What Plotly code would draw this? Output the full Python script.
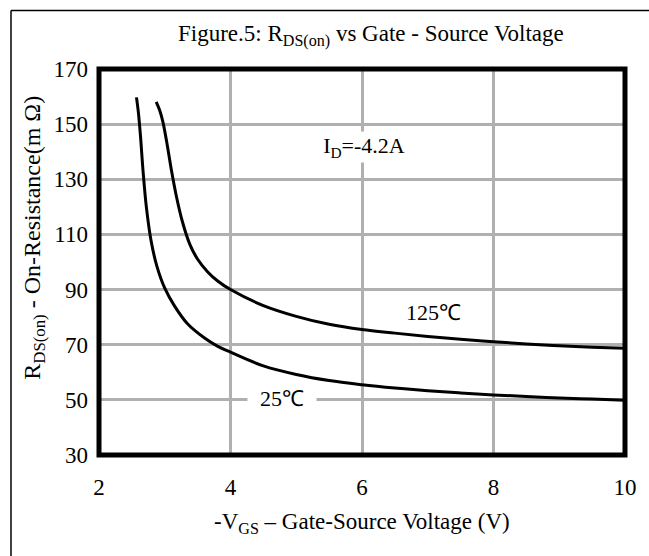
import plotly.graph_objects as go

# ---- data ----
vgs_25 = [2.57, 2.60, 2.63, 2.67, 2.72, 2.79, 2.88, 3.0, 3.15, 3.35, 3.6, 3.8, 4.0,
          4.5, 5.0, 5.5, 6.0, 6.5, 7.0, 7.5, 8.0, 8.5, 9.0, 9.5, 10.0]
rds_25 = [159.7, 154.0, 146.0, 133.0, 120.0, 108.0, 98.5, 90.5, 84.0, 77.5, 72.5, 69.5, 67.3,
          62.3, 59.2, 57.0, 55.5, 54.3, 53.3, 52.5, 51.8, 51.2, 50.7, 50.3, 49.9]

vgs_125 = [2.87, 2.92, 2.97, 3.03, 3.10, 3.18, 3.27, 3.38, 3.5, 3.65, 3.8, 4.0,
           4.5, 5.0, 5.5, 6.0, 6.5, 7.0, 7.5, 8.0, 8.5, 9.0, 9.5, 10.0]
rds_125 = [158.1, 155.2, 151.0, 143.5, 133.5, 123.5, 114.5, 106.5, 101.0, 96.5, 93.2, 90.0,
           84.2, 80.3, 77.4, 75.5, 74.2, 73.0, 72.0, 71.1, 70.3, 69.6, 69.1, 68.7]

x_ticks = [2, 4, 6, 8, 10]
y_ticks = [30, 50, 70, 90, 110, 130, 150, 170]

title_text = "Figure.5: R<sub>DS(on)</sub> vs Gate - Source Voltage"
xtitle_text = "-V<sub>GS</sub> \u2013 Gate-Source Voltage (V)"
ytitle_text = "R<sub>DS(on)</sub> - On-Resistance(m \u03a9)"
id_text = "I<sub>D</sub>=-4.2A"
lbl_25 = "25\u2103"
lbl_125 = "125\u2103"

# ---- layout geometry ----
W, H = 649, 556
ml, mr, mt, mb = 99, 18, 69, 101
pw, ph = W - ml - mr, H - mt - mb


def px(x):
    return (x - ml) / pw


def py(y):
    return (H - mb - y) / ph


FONT = "Liberation Serif"

fig = go.Figure()
fig.add_trace(go.Scatter(x=vgs_25, y=rds_25, mode="lines",
                         line=dict(color="black", width=3, shape="spline", smoothing=1.0),
                         showlegend=False, hoverinfo="skip"))
fig.add_trace(go.Scatter(x=vgs_125, y=rds_125, mode="lines",
                         line=dict(color="black", width=3, shape="spline", smoothing=1.0),
                         showlegend=False, hoverinfo="skip"))

fig.update_layout(
    width=W, height=H,
    margin=dict(l=ml, r=mr, t=mt, b=mb, pad=0),
    paper_bgcolor="white", plot_bgcolor="white",
    font=dict(family=FONT, size=23, color="black"),
    showlegend=False,
    xaxis=dict(range=[2, 10], tickvals=x_ticks, ticktext=[str(v) for v in x_ticks],
               showgrid=True, gridcolor="#b0b0b0", gridwidth=2.5, zeroline=False,
               showline=False, ticks="", ticklabelstandoff=16,
               tickfont=dict(family=FONT, size=23, color="black"), fixedrange=True),
    yaxis=dict(range=[30, 170], tickvals=y_ticks, ticktext=[str(v) for v in y_ticks],
               showgrid=True, gridcolor="#b0b0b0", gridwidth=2.5, zeroline=False,
               showline=False, ticks="", ticklabelstandoff=10,
               tickfont=dict(family=FONT, size=23, color="black"), fixedrange=True),
)

# plot frame (thick) and outer figure frame (thin, cropped at right/bottom)
fig.add_shape(type="rect", xref="paper", yref="paper", x0=0, x1=1, y0=0, y1=1,
              line=dict(color="black", width=5), layer="above")
fig.add_shape(type="line", xref="paper", yref="paper",
              x0=px(10), y0=py(10.5), x1=px(670), y1=py(10.5),
              line=dict(color="black", width=1.5))
fig.add_shape(type="line", xref="paper", yref="paper",
              x0=px(10), y0=py(10.5), x1=px(10), y1=py(580),
              line=dict(color="black", width=1.5))

# texts
fig.add_annotation(text=title_text, xref="paper", yref="paper", x=px(374), y=py(36),
                   showarrow=False, xanchor="center", yanchor="middle",
                   font=dict(family=FONT, size=23))
fig.add_annotation(text=xtitle_text, xref="paper", yref="paper", x=px(365), y=py(523),
                   showarrow=False, xanchor="center", yanchor="middle",
                   font=dict(family=FONT, size=23))
fig.add_annotation(text=ytitle_text, xref="paper", yref="paper", x=px(33), y=py(238),
                   showarrow=False, xanchor="center", yanchor="middle", textangle=-90,
                   font=dict(family=FONT, size=24))
fig.add_annotation(text=id_text, xref="paper", yref="paper", x=px(367), y=py(147),
                   showarrow=False, xanchor="center", yanchor="middle",
                   bgcolor="white", width=100, height=30, borderpad=0,
                   font=dict(family=FONT, size=22))
fig.add_annotation(text=lbl_125, xref="paper", yref="paper", x=px(437), y=py(312),
                   showarrow=False, xanchor="center", yanchor="middle",
                   font=dict(family=FONT, size=22))
fig.add_annotation(text=lbl_25, xref="paper", yref="paper", x=px(284), y=py(398),
                   showarrow=False, xanchor="center", yanchor="middle",
                   bgcolor="white", width=68, height=22, borderpad=0,
                   font=dict(family=FONT, size=22))

fig.write_html("out.html", config={"displayModeBar": False})
